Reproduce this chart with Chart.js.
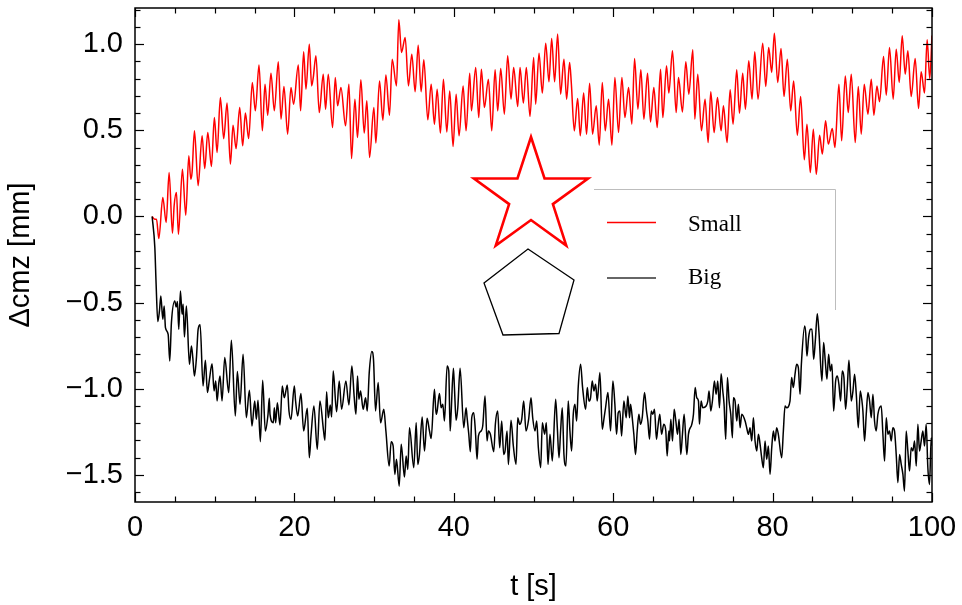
<!DOCTYPE html>
<html>
<head>
<meta charset="utf-8">
<script src="https://cdn.jsdelivr.net/npm/chart.js@4.4.0/dist/chart.umd.min.js"></script>
<style>
  html, body { margin: 0; padding: 0; background: #fff; }
  #wrap { width: 962px; height: 605px; }
</style>
</head>
<body>
<div id="wrap"><canvas id="c" width="962" height="605"></canvas></div>
<script>
// ---- data: centre-of-mass z displacement vs time ----
const tSmall = [2.15,2.49,2.70,2.99,3.49,3.91,4.28,4.70,4.91,5.20,5.45,5.95,6.37,6.75,7.00,7.16,7.46,7.92,8.42,8.75,9.13,9.59,9.96,10.30,10.71,11.13,11.55,11.97,12.30,12.68,13.14,13.51,13.85,14.26,14.72,15.10,15.56,15.98,16.31,16.65,
  17.06,17.48,17.98,18.32,18.69,19.15,19.57,19.90,20.49,20.78,21.16,21.45,21.87,22.16,22.37,22.70,23.12,23.62,23.91,24.25,24.79,25.13,25.42,25.84,26.42,26.84,27.17,27.59,27.92,28.34,28.76,29.09,29.43,29.97,30.22,30.68,31.10,31.48,31.93,32.27,32.81,33.10,33.44,
  33.90,34.31,34.73,35.15,35.53,35.90,36.24,36.74,37.16,37.57,37.91,38.32,38.70,39.12,39.49,39.91,40.29,40.66,41.17,41.54,42.00,42.21,42.75,43.13,43.46,43.84,44.34,44.76,45.18,45.51,45.89,46.34,46.76,47.18,47.51,48.02,48.31,48.73,49.10,49.56,50.02,
  50.27,50.69,51.11,51.53,51.94,52.28,52.65,53.03,53.40,53.82,54.16,54.53,54.74,55.12,55.54,55.87,56.29,56.66,57.04,57.41,57.87,58.25,58.63,59.00,59.42,59.84,60.21,60.67,61.09,61.47,61.93,62.34,62.68,63.10,63.47,63.85,64.31,64.68,65.10,65.52,65.94,66.23,66.69,66.98,
  67.44,67.90,68.19,68.69,69.11,69.49,69.99,70.24,70.61,71.07,71.53,71.91,72.24,72.66,73.08,73.54,73.83,74.29,74.67,75.04,75.50,75.84,76.25,76.59,77.01,77.42,77.76,78.17,78.76,79.14,79.51,79.89,80.22,80.64,81.06,81.43,81.85,82.27,82.64,83.10,83.52,
  83.98,84.31,84.73,85.11,85.48,85.90,86.24,86.65,86.99,87.49,87.82,88.32,88.66,89.12,89.49,89.87,90.37,90.75,91.12,91.50,91.96,92.38,92.71,93.09,93.42,93.92,94.26,94.67,95.13,95.51,95.89,96.26,96.64,96.97,97.39,97.89,98.31,98.64,99.06,99.39,99.72,100.0];
const small = [0.000,-0.016,-0.016,-0.128,0.110,-0.035,0.255,-0.097,0.062,0.139,-0.103,0.274,0.007,0.352,0.216,0.255,0.497,0.178,0.468,0.278,0.487,0.290,0.574,0.371,0.690,0.452,0.658,0.304,0.530,0.394,0.632,0.410,0.600,0.452,0.778,0.613,0.879,0.497,0.768,0.588,
  0.832,0.613,0.898,0.565,0.755,0.478,0.749,0.652,0.879,0.613,0.956,0.739,1.000,0.758,0.807,0.933,0.603,0.826,0.623,0.826,0.516,0.807,0.642,0.749,0.526,0.768,0.336,0.681,0.458,0.793,0.484,0.671,0.342,0.632,0.426,0.787,0.559,0.821,0.588,0.913,0.758,1.142,0.952,
  1.039,0.758,0.942,0.724,0.994,0.724,0.909,0.561,0.768,0.536,0.739,0.484,0.797,0.491,0.729,0.406,0.710,0.468,0.758,0.497,0.832,0.613,0.865,0.574,0.855,0.632,0.797,0.497,0.851,0.613,0.859,0.594,0.933,0.681,0.865,0.638,0.865,0.658,0.865,0.580,0.923,
  0.652,0.948,0.716,1.006,0.782,1.033,0.782,1.059,0.710,0.913,0.681,0.894,0.778,0.497,0.685,0.468,0.716,0.478,0.774,0.478,0.642,0.414,0.778,0.497,0.681,0.414,0.807,0.487,0.807,0.574,0.749,0.536,0.917,0.623,0.851,0.565,0.832,0.549,0.749,0.516,0.855,0.574,0.875,0.716,
  0.962,0.603,0.807,0.607,0.898,0.710,0.967,0.565,0.826,0.497,0.681,0.429,0.724,0.487,0.690,0.497,0.642,0.429,0.735,0.536,0.851,0.600,0.832,0.623,0.904,0.681,0.956,0.681,1.006,0.755,0.981,0.836,1.064,0.778,0.975,0.696,0.913,0.613,0.787,0.472,0.696,
  0.329,0.536,0.255,0.507,0.245,0.472,0.362,0.555,0.420,0.511,0.400,0.768,0.439,0.816,0.603,0.826,0.429,0.755,0.478,0.768,0.594,0.797,0.588,0.758,0.666,0.929,0.704,0.981,0.681,0.971,0.778,1.049,0.826,0.962,0.696,0.917,0.627,0.840,0.716,1.026,0.800,1.050];

const tBig = [2.15,2.49,2.65,2.86,3.07,3.24,3.49,3.66,3.82,4.16,4.36,4.57,4.99,5.16,5.33,5.49,5.70,5.91,6.04,6.20,6.45,6.83,7.08,7.25,7.46,7.71,7.92,8.17,8.54,8.83,9.09,9.34,9.67,9.92,10.13,10.30,10.51,10.67,10.92,11.26,11.76,12.09,12.59,12.84,13.18,13.56,13.97,14.35,14.68,15.02,15.23,15.43,15.73,16.02,16.35,16.69,16.85,
  16.94,17.36,17.48,17.65,17.86,18.19,18.48,18.73,19.11,19.32,19.57,19.99,20.15,20.41,20.82,21.16,21.62,21.87,22.08,22.45,22.87,23.20,23.66,23.83,24.04,24.25,24.50,24.67,24.87,25.29,25.63,25.92,26.46,26.84,27.21,27.51,27.72,27.92,28.09,28.30,28.63,28.93,29.14,29.39,29.72,29.93,30.18,30.51,30.81,31.22,31.48,31.89,32.14,32.39,32.60,32.81,33.15,
  33.40,33.81,34.02,34.23,34.44,34.98,35.28,35.48,35.69,36.03,36.32,36.65,36.95,37.16,37.57,37.78,37.91,38.20,38.41,38.62,38.83,39.16,39.37,39.54,39.66,39.95,40.08,40.29,40.50,40.79,41.25,41.54,41.67,41.88,42.08,42.25,42.50,42.71,42.92,43.09,43.42,43.63,43.92,44.17,44.34,44.59,45.01,45.22,45.51,45.76,46.01,46.26,46.43,46.68,46.85,47.18,47.47,47.81,48.02,48.27,48.52,48.77,49.06,49.39,49.69,49.90,50.19,
  50.40,50.61,50.90,51.11,51.40,51.61,51.82,52.07,52.36,52.78,52.99,53.20,53.40,53.61,53.82,54.07,54.36,54.57,54.78,54.99,55.20,55.41,55.62,55.91,56.16,56.54,56.75,56.95,57.16,57.37,57.58,57.79,58.00,58.33,58.63,58.83,59.04,59.34,59.67,59.96,60.21,60.42,60.63,60.84,61.05,61.34,61.63,61.84,62.05,62.18,62.43,62.59,62.80,63.01,63.22,63.43,63.64,63.93,64.18,64.35,64.56,64.77,64.97,65.18,65.43,65.60,65.85,66.06,66.35,66.60,66.77,66.98,
  67.06,67.23,67.44,67.65,67.86,68.07,68.27,68.48,68.69,68.90,69.24,69.44,69.86,70.07,70.28,70.49,70.70,70.82,71.03,71.24,71.66,71.87,72.03,72.24,72.45,72.70,72.91,73.12,73.33,73.54,73.75,73.91,74.12,74.33,74.54,74.75,74.96,75.08,75.29,75.50,75.71,75.92,76.13,76.55,76.75,76.96,77.17,77.38,77.59,77.80,78.01,78.22,78.43,78.63,78.84,79.05,79.26,79.47,79.68,79.89,80.10,80.30,80.51,80.72,81.14,81.35,81.56,81.77,82.18,82.39,82.60,82.81,83.02,83.23,83.44,
  83.61,84.02,84.15,84.31,84.52,84.73,84.94,85.15,85.36,85.61,85.82,86.19,86.40,86.61,86.82,87.03,87.24,87.45,87.66,87.91,88.12,88.32,88.53,88.74,88.95,89.16,89.37,89.58,89.87,90.08,90.29,90.50,90.75,91.00,91.21,91.33,91.54,91.75,91.96,92.17,92.38,92.59,92.79,93.00,93.21,93.63,93.84,94.05,94.26,94.47,94.67,94.88,95.09,95.30,95.51,95.72,95.93,96.14,96.35,96.55,96.76,96.97,97.18,97.39,97.60,97.81,98.02,98.23,98.43,98.64,98.85,99.06,99.27,99.48,99.69,99.90,100.0];
const big = [0.000,-0.181,-0.393,-0.610,-0.548,-0.461,-0.597,-0.519,-0.645,-0.684,-0.839,-0.616,-0.490,-0.525,-0.494,-0.655,-0.432,-0.568,-0.509,-0.699,-0.519,-0.858,-0.751,-0.819,-0.926,-0.819,-0.655,-0.629,-0.984,-0.835,-1.022,-0.945,-0.854,-1.013,-0.955,-1.071,-0.970,-0.926,-1.071,-0.819,-1.022,-0.718,-1.158,-0.900,-1.090,-0.800,-1.168,-1.009,-1.216,-1.071,-1.177,-1.067,-1.307,-0.951,-1.245,-1.148,-1.055,
  -1.148,-1.197,-1.110,-1.197,-1.081,-1.210,-0.984,-1.052,-0.978,-1.129,-1.177,-0.984,-1.071,-1.158,-1.028,-1.245,-1.113,-1.400,-1.274,-1.100,-1.351,-1.071,-1.245,-1.299,-1.017,-1.168,-1.094,-1.164,-0.897,-1.133,-0.955,-1.119,-0.955,-1.094,-0.868,-1.052,-1.148,-0.926,-1.061,-1.013,-1.119,-1.052,-1.129,-0.906,-0.784,-0.835,-1.129,-0.964,-1.197,-1.119,-1.245,-1.448,-1.307,-1.332,-1.497,-1.409,-1.565,
  -1.322,-1.512,-1.390,-1.468,-1.226,-1.458,-1.197,-1.439,-1.381,-1.164,-1.361,-1.171,-1.245,-1.288,-1.003,-1.148,-1.129,-1.028,-1.110,-1.090,-1.187,-0.868,-0.897,-1.245,-1.148,-0.881,-0.993,-1.183,-1.110,-0.881,-1.226,-1.110,-1.168,-1.264,-1.365,-1.168,-1.139,-1.245,-1.409,-1.274,-1.245,-1.216,-1.042,-1.303,-1.245,-1.264,-1.365,-1.203,-1.129,-1.342,-1.187,-1.381,-1.361,-1.245,-1.439,-1.183,-1.332,-1.439,-1.168,-1.206,-1.177,-1.071,-1.245,-1.177,-1.052,-1.168,-1.245,
  -1.187,-1.342,-1.458,-1.197,-1.264,-1.197,-1.439,-1.264,-1.419,-1.061,-1.226,-1.400,-1.245,-1.110,-1.381,-1.448,-1.071,-1.245,-1.361,-1.148,-1.090,-1.187,-0.984,-0.858,-0.993,-1.119,-0.993,-1.071,-1.052,-0.955,-1.013,-0.974,-1.071,-0.906,-1.235,-1.177,-1.110,-1.022,-1.245,-0.955,-1.090,-1.264,-1.139,-1.129,-1.274,-1.071,-1.168,-1.042,-1.168,-1.090,-1.187,-1.264,-1.381,-1.245,-1.148,-1.206,-1.168,-1.022,-1.129,-1.187,-1.293,-1.129,-1.148,-1.119,-1.293,-1.226,-1.148,-1.264,-1.206,-1.245,-1.390,-1.245,
  -1.303,-1.177,-1.303,-1.119,-1.187,-1.264,-1.177,-1.381,-1.264,-1.148,-1.381,-1.264,-1.206,-1.148,-0.993,-1.052,-1.071,-1.206,-1.071,-1.110,-1.100,-1.071,-1.013,-1.129,-1.071,-0.955,-1.032,-0.955,-1.110,-0.912,-1.013,-1.090,-1.293,-0.935,-1.071,-1.148,-1.284,-1.052,-1.071,-1.187,-1.090,-1.226,-1.148,-1.187,-1.226,-1.264,-1.226,-1.303,-1.168,-1.303,-1.361,-1.264,-1.322,-1.400,-1.458,-1.303,-1.409,-1.332,-1.497,-1.342,-1.245,-1.303,-1.226,-1.264,-1.400,-1.245,-1.100,-1.110,-1.071,-0.935,-0.993,-0.916,-0.858,-0.877,-1.032,
  -0.858,-0.635,-0.674,-0.810,-0.703,-0.655,-0.655,-0.829,-0.722,-0.564,-0.674,-0.955,-0.732,-0.839,-0.945,-0.800,-0.897,-0.858,-1.129,-0.955,-0.926,-0.974,-1.071,-0.897,-0.935,-1.119,-0.993,-0.835,-1.071,-1.013,-0.916,-1.032,-1.226,-1.013,-1.071,-1.129,-1.303,-1.148,-1.022,-1.071,-1.168,-1.032,-1.187,-1.245,-1.148,-1.100,-1.264,-1.419,-1.168,-1.264,-1.245,-1.303,-1.226,-1.245,-1.381,-1.545,-1.381,-1.439,-1.497,-1.594,-1.245,-1.361,-1.477,-1.342,-1.361,-1.303,-1.448,-1.206,-1.361,-1.303,-1.245,-1.332,-1.206,-1.458,-1.555,-1.284,-1.330];

const seriesNames = ['Small', 'Big'];
const seriesColors = ['#ff0000', '#000000'];

// axis ticks
const xTickValues = [0, 20, 40, 60, 80, 100];
const xMinorStep = 5;
const yTickValues = [-1.5, -1.0, -0.5, 0.0, 0.5, 1.0];
const yMinorStep = 0.1;
const xRange = [0, 100];
const yRange = [-1.657, 1.21];

const toPoints = (ts, vs) => ts.map((t, i) => ({ x: t, y: vs[i] }));

const fmtY = v => {
  const s = Math.abs(v) < 1e-9 ? '0.0' : v.toFixed(1);
  return s.replace('-', '\u2212');
};

// boxed frame with inward major/minor ticks on all four sides
const frameTicks = {
  id: 'frameTicks',
  afterDraw(chart) {
    const { ctx, chartArea: a, scales: { x, y } } = chart;
    ctx.save();
    ctx.strokeStyle = '#000';
    ctx.lineWidth = 1.5;
    ctx.strokeRect(a.left, a.top, a.right - a.left, a.bottom - a.top);
    ctx.lineWidth = 1.2;
    const seg = (x0, y0, x1, y1) => { ctx.beginPath(); ctx.moveTo(x0, y0); ctx.lineTo(x1, y1); ctx.stroke(); };
    const isMajor = (list, v) => list.some(t => Math.abs(t - v) < 1e-6);
    for (let k = 0; k * xMinorStep <= xRange[1] + 1e-9; k++) {
      const v = xRange[0] + k * xMinorStep;
      const L = isMajor(xTickValues, v) ? 9 : 5.5;
      const px = Math.round(x.getPixelForValue(v)) + 0.5;
      seg(px, a.bottom, px, a.bottom - L);
      seg(px, a.top, px, a.top + L);
    }
    const yStart = Math.ceil(yRange[0] / yMinorStep);
    const yEnd = Math.floor(yRange[1] / yMinorStep);
    for (let k = yStart; k <= yEnd; k++) {
      const v = k * yMinorStep;
      const L = isMajor(yTickValues, v) ? 9 : 5.5;
      const py = Math.round(y.getPixelForValue(v)) + 0.5;
      seg(a.left, py, a.left + L, py);
      seg(a.right, py, a.right - L, py);
    }
    ctx.restore();
  }
};

// legend block: shape symbols, sample lines and labels
const legendArt = {
  id: 'legendArt',
  afterDraw(chart) {
    const ctx = chart.ctx;
    ctx.save();
    // partial light-grey frame
    ctx.strokeStyle = '#bdbdbd';
    ctx.lineWidth = 1;
    ctx.beginPath();
    ctx.moveTo(594, 189.5); ctx.lineTo(835.5, 189.5); ctx.lineTo(835.5, 310);
    ctx.stroke();

    // five-pointed star
    const cx = 531, cy = 197, R = 60, r = 23;
    ctx.beginPath();
    for (let i = 0; i < 10; i++) {
      const ang = -Math.PI / 2 + i * Math.PI / 5;
      const rad = i % 2 === 0 ? R : r;
      const px = cx + rad * Math.cos(ang), py = cy + rad * Math.sin(ang);
      if (i === 0) ctx.moveTo(px, py); else ctx.lineTo(px, py);
    }
    ctx.closePath();
    ctx.strokeStyle = seriesColors[0];
    ctx.lineWidth = 2.6;
    ctx.lineJoin = 'miter';
    ctx.stroke();

    // pentagon
    const pent = [[528, 249], [574, 280], [559, 333.5], [503, 335], [484, 283]];
    ctx.beginPath();
    pent.forEach(([px, py], i) => i ? ctx.lineTo(px, py) : ctx.moveTo(px, py));
    ctx.closePath();
    ctx.strokeStyle = '#000';
    ctx.lineWidth = 1.3;
    ctx.stroke();

    // sample lines
    ctx.lineWidth = 1.4;
    ctx.strokeStyle = seriesColors[0];
    ctx.beginPath(); ctx.moveTo(607, 222.5); ctx.lineTo(656, 222.5); ctx.stroke();
    ctx.strokeStyle = '#333';
    ctx.beginPath(); ctx.moveTo(607, 278); ctx.lineTo(656, 278); ctx.stroke();

    // labels
    ctx.fillStyle = '#000';
    ctx.font = '23px "Liberation Serif", "Times New Roman", serif';
    ctx.textBaseline = 'alphabetic';
    ctx.textAlign = 'left';
    ctx.fillText(seriesNames[0], 688, 231);
    ctx.fillText(seriesNames[1], 688, 283.5);
    ctx.restore();
  }
};

const tickFont = { family: '"Liberation Sans", Arial, Helvetica, sans-serif', size: 29 };

const lineStyle = { borderWidth: 1.5, pointRadius: 0, cubicInterpolationMode: 'monotone', fill: false };

new Chart(document.getElementById('c'), {
  type: 'line',
  data: {
    datasets: [
      Object.assign({ label: seriesNames[1], data: toPoints(tBig, big), borderColor: seriesColors[1] }, lineStyle),
      Object.assign({ label: seriesNames[0], data: toPoints(tSmall, small), borderColor: seriesColors[0] }, lineStyle)
    ]
  },
  options: {
    responsive: false,
    animation: false,
    events: [],
    layout: { padding: { top: 8, right: 30, left: 0, bottom: 0 } },
    plugins: { legend: { display: false }, tooltip: { enabled: false } },
    scales: {
      x: {
        type: 'linear',
        min: xRange[0], max: xRange[1],
        afterBuildTicks: s => { s.ticks = xTickValues.map(v => ({ value: v })); },
        afterFit: s => { s.height = 103; s.paddingLeft = 0; s.paddingRight = 0; },
        grid: { display: false, drawTicks: false },
        border: { display: false },
        ticks: { font: tickFont, color: '#000', padding: 9, maxRotation: 0, callback: v => String(v) },
        title: { display: true, text: 't [s]', font: tickFont, color: '#000', padding: { top: 0, bottom: 1 } }
      },
      y: {
        type: 'linear',
        min: yRange[0], max: yRange[1],
        afterBuildTicks: s => { s.ticks = yTickValues.map(v => ({ value: v })); },
        afterFit: s => { s.width = 135; s.paddingTop = 0; s.paddingBottom = 0; },
        grid: { display: false, drawTicks: false },
        border: { display: false },
        ticks: { font: tickFont, color: '#000', padding: 12, callback: v => fmtY(v) },
        title: { display: true, text: '\u0394cmz [mm]', font: tickFont, color: '#000', padding: { top: 4, bottom: 0 } }
      }
    }
  },
  plugins: [frameTicks, legendArt]
});
</script>
</body>
</html>
